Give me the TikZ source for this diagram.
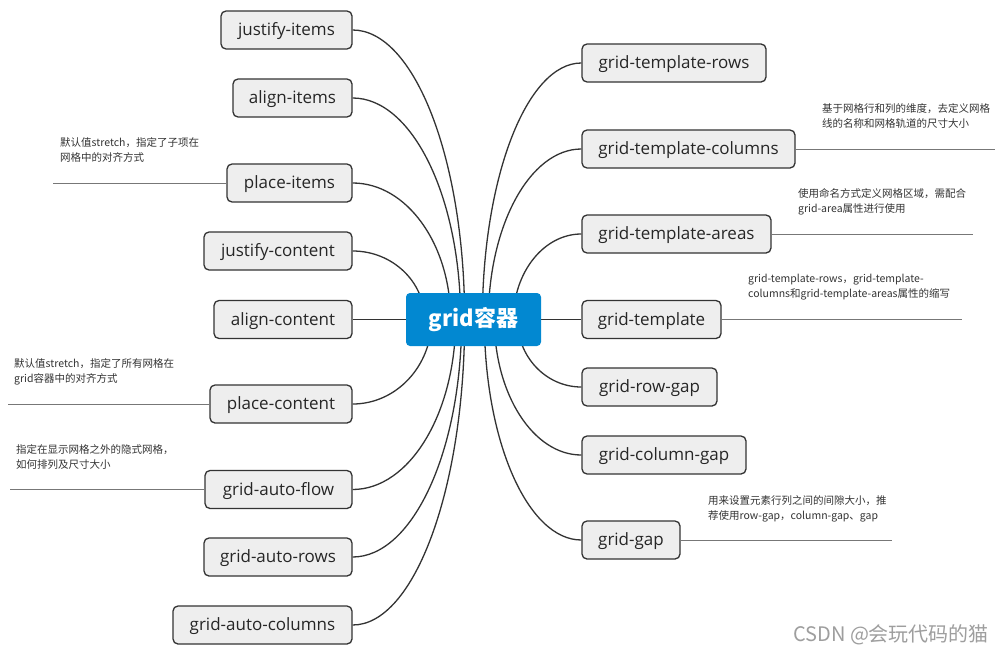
\documentclass[tikz,border=0pt]{standalone}
\usepackage{fontspec}
\setmainfont{Open Sans}
\newfontfamily\cjkfont{Noto Sans CJK SC}
\usetikzlibrary{calc,backgrounds}
\definecolor{rootblue}{HTML}{0288D1}
\definecolor{boxfill}{HTML}{EEEEEE}
\definecolor{boxline}{HTML}{333333}
\definecolor{notetext}{HTML}{333333}
\definecolor{notegray}{HTML}{777777}
\begin{document}
\begin{tikzpicture}[x=1pt,y=-1pt,
  childbox/.style={draw=boxline,line width=1.3pt,fill=boxfill,rounded corners=5pt,
    minimum height=38pt,inner sep=0pt,text height=14.5pt,text depth=3pt,
    font=\fontsize{17}{20}\selectfont,text=black!85},
  rootbox/.style={fill=rootblue,rounded corners=4pt,minimum width=135pt,minimum height=53pt,
    inner sep=0pt,text=white,font=\cjkfont\bfseries\fontsize{22}{26}\selectfont},
  conn/.style={draw=boxline,line width=1.3pt},
  noteln/.style={draw=notegray,line width=0.9pt},
  notetxt/.style={anchor=base west,inner sep=0pt,align=left,text=notetext,
    font=\cjkfont\fontsize{10.5}{15}\selectfont},
  wmark/.style={anchor=base west,inner sep=0pt,text=black!38,
    font=\cjkfont\fontsize{20}{24}\selectfont}]
\useasboundingbox (0,0) rectangle (1001,653);

\node[rootbox] (root) at (473.5,319.5) {grid容器};

% left children
\node[childbox,minimum width=131pt] (ji)  at (286.5,30)  {justify-items};
\node[childbox,minimum width=119pt] (ai)  at (292.5,98)  {align-items};
\node[childbox,minimum width=125pt] (pi)  at (289.5,183) {place-items};
\node[childbox,minimum width=148pt] (jc)  at (278,251)   {justify-content};
\node[childbox,minimum width=138pt] (ac)  at (283,319.5) {align-content};
\node[childbox,minimum width=142pt] (pc)  at (281,404)   {place-content};
\node[childbox,minimum width=147pt] (gaf) at (278.5,489.5) {grid-auto-flow};
\node[childbox,minimum width=148pt] (gar) at (278,557)   {grid-auto-rows};
\node[childbox,minimum width=179pt] (gac) at (262.5,625) {grid-auto-columns};

% right children
\node[childbox,minimum width=184pt] (gtr) at (674,63)    {grid-template-rows};
\node[childbox,minimum width=213pt] (gtc) at (688.5,149) {grid-template-columns};
\node[childbox,minimum width=189pt] (gta) at (676.5,234) {grid-template-areas};
\node[childbox,minimum width=139pt] (gt)  at (651.5,319.5) {grid-template};
\node[childbox,minimum width=135pt] (grg) at (649.5,387) {grid-row-gap};
\node[childbox,minimum width=164pt] (gcg) at (664,455)   {grid-column-gap};
\node[childbox,minimum width=98pt]  (gg)  at (631,540)   {grid-gap};

% connectors
\begin{scope}[on background layer]
\fill[white] (0,0) rectangle (1001,653);
\foreach \n/\a in {ji/112,ai/108,pi/98,jc/72,pc/79,gaf/103,gar/109,gac/112} {
  \coordinate (e) at ($(root.center -| \n.east)+(\a,0)$);
  \draw[conn] (\n.east) .. controls ($(\n.east)+(0.552*\a,0)$) and ($(e)!0.552!(e |- \n.east)$) .. (e);
}
\foreach \n/\a in {gtr/99,gtc/93,gta/68,grg/64,gcg/87,gg/97} {
  \coordinate (e) at ($(root.center -| \n.west)+(-\a,0)$);
  \draw[conn] (\n.west) .. controls ($(\n.west)+(-0.552*\a,0)$) and ($(e)!0.552!(e |- \n.west)$) .. (e);
}
\draw[conn] (ac.east) -- (root.center);
\draw[conn] (root.center) -- (gt.west);
\end{scope}

% notes
\coordinate (npi) at (53,183);
\coordinate (npc) at (8,404);
\coordinate (ngaf) at (10,489.5);
\coordinate (ngtc) at (995,149);
\coordinate (ngta) at (973,234);
\coordinate (ngt) at (962,319.5);
\coordinate (ngg) at (892,540);
\draw[noteln] (npi) -- (pi.west);
\draw[noteln] (npc) -- (pc.west);
\draw[noteln] (ngaf) -- (gaf.west);
\draw[noteln] (gtc.east) -- (ngtc);
\draw[noteln] (gta.east) -- (ngta);
\draw[noteln] (gt.east) -- (ngt);
\draw[noteln] (gg.east) -- (ngg);

\node[notetxt] (tpi) at (60,161) {默认值stretch，指定了子项在\\网格中的对齐方式};
\node[notetxt] (tpc) at (14,382) {默认值stretch，指定了所有网格在\\grid容器中的对齐方式};
\node[notetxt] (tgaf) at (16,468) {指定在显示网格之外的隐式网格，\\如何排列及尺寸大小};
\node[notetxt] (tgtc) at (822,127) {基于网格行和列的维度，去定义网格\\线的名称和网格轨道的尺寸大小};
\node[notetxt] (tgta) at (798,212) {使用命名方式定义网格区域，需配合\\grid-area属性进行使用};
\node[notetxt] (tgt) at (748,297) {grid-template-rows，grid-template-\\columns和grid-template-areas属性的缩写};
\node[notetxt] (tgg) at (708,519) {用来设置元素行列之间的间隙大小，推\\荐使用row-gap，column-gap、gap};

\node[wmark] (wm) at (793,641) {CSDN @会玩代码的猫};
\end{tikzpicture}
\end{document}
